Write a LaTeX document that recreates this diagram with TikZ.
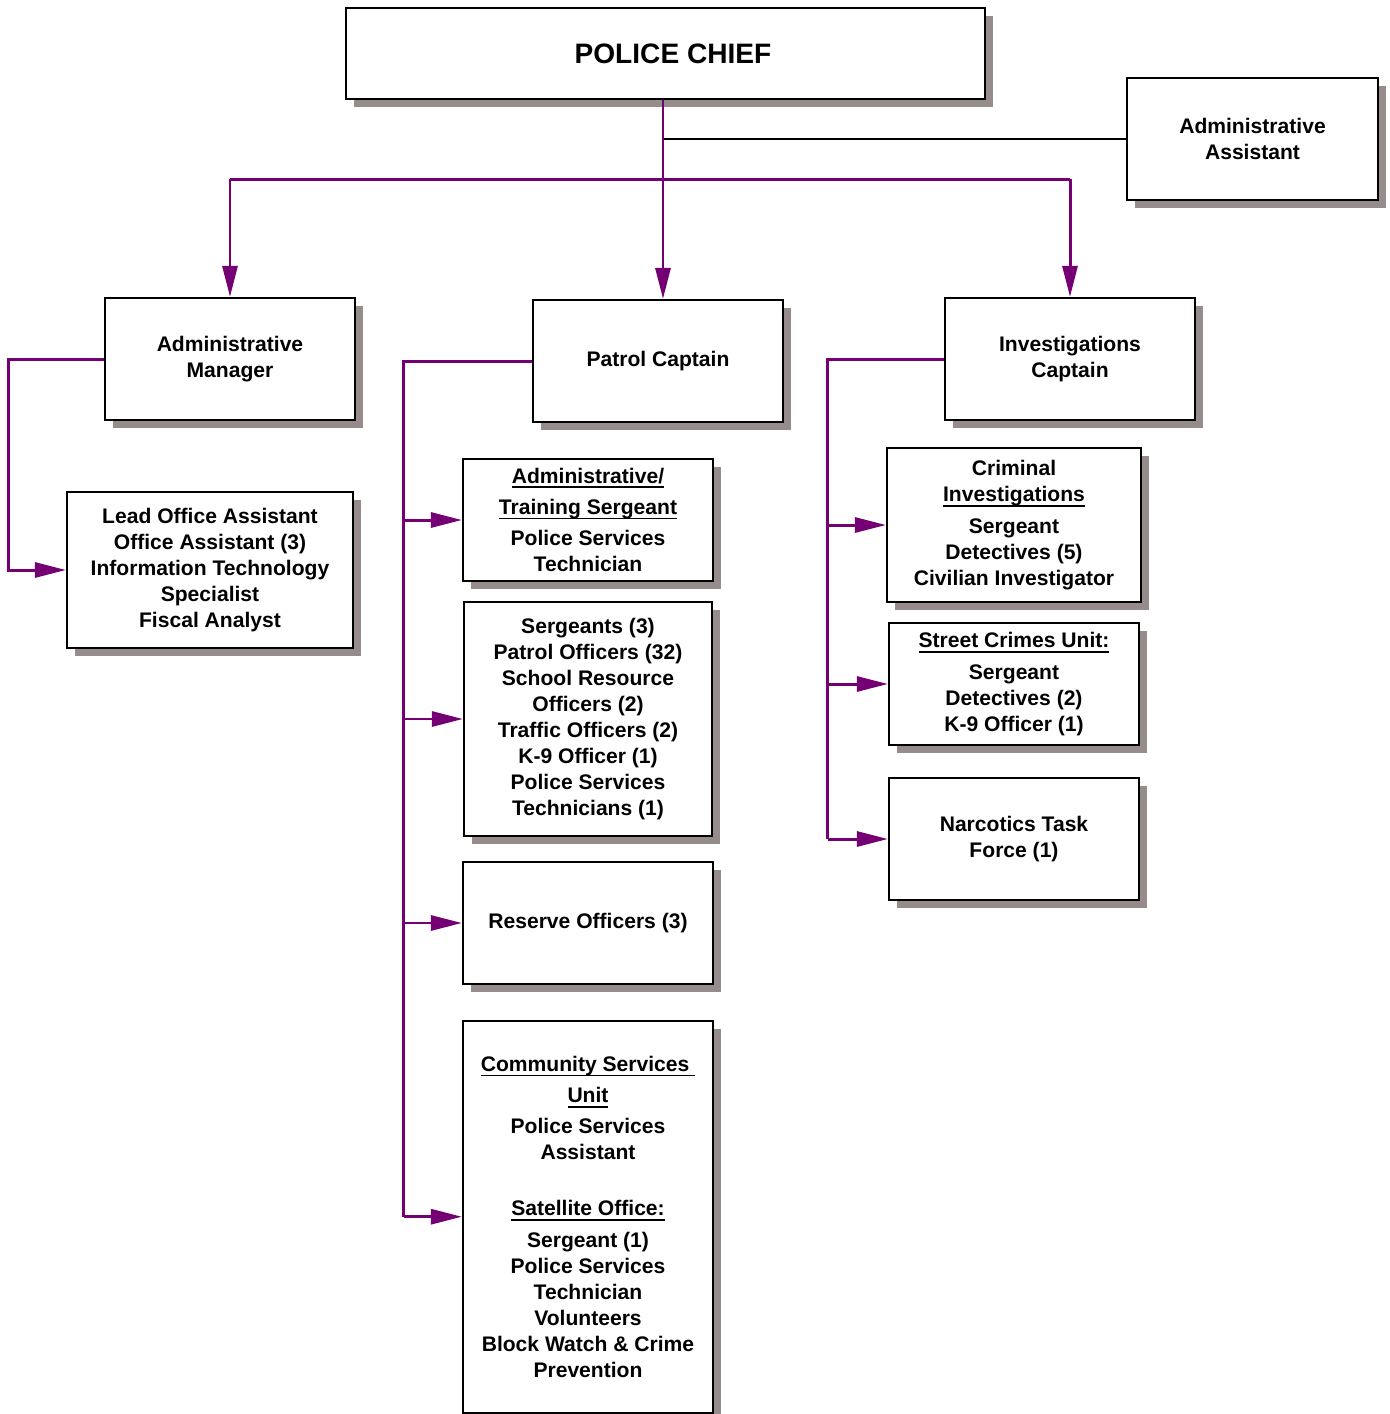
\documentclass[tikz,border=0pt]{standalone}
\usepackage{fontspec}
\setmainfont{Liberation Sans}
\usepackage{tikz}
\usetikzlibrary{arrows.meta, positioning, shadows, calc}
\definecolor{orgpurple}{RGB}{116,0,116}
\definecolor{shadowgray}{RGB}{150,140,140}
\newcommand{\ulhead}[1]{\setbox0\hbox{#1}\rlap{\rule[-2.8pt]{\wd0}{1pt}}\box0}
\tikzset{
    unit/.style={draw, line width=1.3pt, fill=white, align=center, inner sep=2pt,
      minimum width=5cm, minimum height=2.44cm,
      font=\fontsize{12}{14.8}\selectfont\bfseries,
      drop shadow={shadow xshift=0.16cm, shadow yshift=-0.16cm, fill=shadowgray, opacity=1}},
    link/.style={draw=orgpurple, line width=1.7pt},
    arrow/.style={link, -{Triangle[length=0.62cm, width=0.3cm]}},
    plain link/.style={draw=black, line width=1.2pt},
}

\begin{document}
\begin{tikzpicture}[x=0.02cm, y=-0.02cm]
    \useasboundingbox (0,0) rectangle (1390,1414);

    \node[unit, minimum width=12.78cm, minimum height=1.82cm,
      font=\fontsize{16}{19}\selectfont\bfseries] (chief) at (665.5,53.5) {\hspace*{0.3cm}POLICE CHIEF};
    \node[unit, minimum width=5.02cm] (asst) at (1252.5,139) {Administrative\\Assistant};
    \node[unit] (mgr) at (230,359) {Administrative\\Manager};
    \node[unit] (pcap) at (658,361) {Patrol Captain};
    \node[unit] (icap) at (1070,359) {Investigations\\Captain};

    \node[unit, minimum width=5.72cm, minimum height=3.12cm] (office) at (210,570)
      {Lead Office Assistant\\Office Assistant (3)\\Information Technology\\Specialist\\Fiscal Analyst};

    \node[unit] (trainsgt) at (588,520)
      {\ulhead{Administrative/}\\[3pt]\ulhead{Training Sergeant}\\[3pt]Police Services\\Technician};
    \node[unit, minimum width=4.96cm, minimum height=4.68cm, below=0.375cm of trainsgt] (patrol)
      {Sergeants (3)\\Patrol Officers (32)\\School Resource\\Officers (2)\\Traffic Officers (2)\\K-9 Officer (1)\\Police Services\\Technicians (1)};
    \node[unit, below=0.475cm of patrol] (reserve) {Reserve Officers (3)};
    \node[unit, minimum height=7.84cm, below=0.69cm of reserve] (csu)
      {\ulhead{Community Services\ }\\[3pt]\ulhead{Unit}\\[3pt]Police Services\\Assistant\\[17pt]
       \ulhead{Satellite Office:}\\[3pt]Sergeant (1)\\Police Services\\Technician\\Volunteers\\Block Watch \& Crime\\Prevention};

    \node[unit, minimum width=5.08cm, minimum height=3.08cm] (cid) at (1014,525)
      {Criminal\\\ulhead{Investigations}\\[3pt]Sergeant\\Detectives (5)\\Civilian Investigator};
    \node[unit, below=0.375cm of cid] (scu)
      {\ulhead{Street Crimes Unit:}\\[3pt]Sergeant\\Detectives (2)\\K-9 Officer (1)};
    \node[unit, below=0.615cm of scu] (ntf) {Narcotics Task\\Force (1)};

    \coordinate (hub) at (663,179);

    \draw[plain link] (hub |- asst.west) -- (asst.west);
    \draw[link] (mgr.north |- hub) -- (icap.north |- hub);
    \draw[arrow] (hub |- chief.south) -- (hub |- pcap.north);
    \draw[arrow] (mgr.north |- hub) -- (mgr.north);
    \draw[arrow] (icap.north |- hub) -- (icap.north);

    \draw[arrow] (mgr.west) -- ++(-95,0) |- (office.west);

    \draw[link] (pcap.west) -- ++(-128,0) coordinate (pbus) -- (pbus |- csu.west);
    \foreach \n in {trainsgt, patrol, reserve, csu}
      \draw[arrow] (pbus |- \n.west) -- (\n.west);

    \draw[link] (icap.west) -- ++(-116,0) coordinate (ibus) -- (ibus |- ntf.west);
    \foreach \n in {cid, scu, ntf}
      \draw[arrow] (ibus |- \n.west) -- (\n.west);
\end{tikzpicture}
\end{document}
